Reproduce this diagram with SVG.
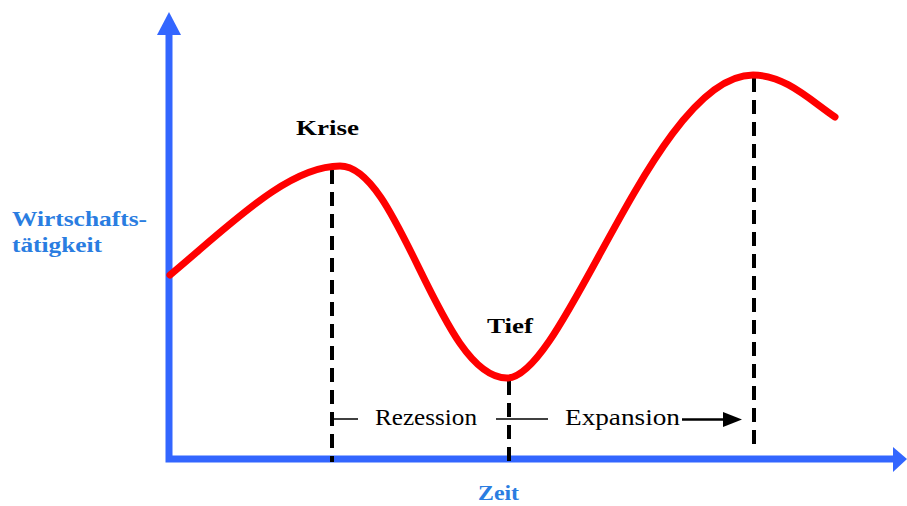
<svg xmlns="http://www.w3.org/2000/svg" width="907" height="506" viewBox="0 0 907 506">
<style>
.axis{stroke:#3366ff;stroke-width:7;fill:none}
.head{fill:#3366ff}
.dash{stroke:#000;stroke-width:4;stroke-dasharray:14 8;fill:none}
.curve{stroke:#ff0000;stroke-width:7;fill:none;stroke-linecap:round;stroke-linejoin:round}
.lbl{font-family:"Liberation Serif",serif;font-weight:bold;font-size:22px;fill:#000}
.blue{font-family:"Liberation Serif",serif;font-weight:bold;font-size:22px;fill:#2a7de1}
.reg{font-family:"Liberation Serif",serif;font-size:23px;fill:#000}
.tick{stroke:#000;stroke-width:1.5}
</style>
<rect width="907" height="506" fill="#ffffff"/>
<g id="axes">
<polyline class="axis" points="169,32 169,459 893,459"/>
<polygon class="head" points="169,12 157,35 181,35"/>
<polygon class="head" points="907,459 893,447 893,472"/>
</g>
<g id="connectors">
<line class="dash" x1="332" y1="170" x2="332" y2="462"/>
<line class="dash" x1="509" y1="381" x2="509" y2="462"/>
<line class="dash" x1="754" y1="78" x2="754" y2="451"/>
<line class="tick" x1="332" y1="419" x2="358" y2="419"/>
<line class="tick" x1="496" y1="419" x2="548" y2="419"/>
<line x1="682" y1="419.5" x2="725" y2="419.5" stroke="#000" stroke-width="2.5"/>
<polygon points="723,412 742,419.5 723,427" fill="#000"/>
</g>
<g id="curve">
<path class="curve" d="M170,275 C230,225 288,166 340,166 C400,166 440,378 507,378 C565,378 655,75 753,75 C785,75 810,100 835,117"/>
</g>
<g id="label-krise"><text class="lbl" x="296" y="135" textLength="63" lengthAdjust="spacingAndGlyphs">Krise</text></g>
<g id="label-tief"><text class="lbl" x="487" y="333" font-size="23" textLength="46" lengthAdjust="spacingAndGlyphs">Tief</text></g>
<g id="label-y">
<text class="blue" x="12" y="226" textLength="135" lengthAdjust="spacingAndGlyphs">Wirtschafts-</text>
<text class="blue" x="12" y="252" textLength="90" lengthAdjust="spacingAndGlyphs">tätigkeit</text>
</g>
<g id="label-x"><text class="blue" x="478" y="500" font-size="21" textLength="41" lengthAdjust="spacingAndGlyphs">Zeit</text></g>
<g id="label-rezession"><text class="reg" x="375" y="425" textLength="102" lengthAdjust="spacingAndGlyphs">Rezession</text></g>
<g id="label-expansion"><text class="reg" x="565" y="425" textLength="115" lengthAdjust="spacingAndGlyphs">Expansion</text></g>
</svg>
